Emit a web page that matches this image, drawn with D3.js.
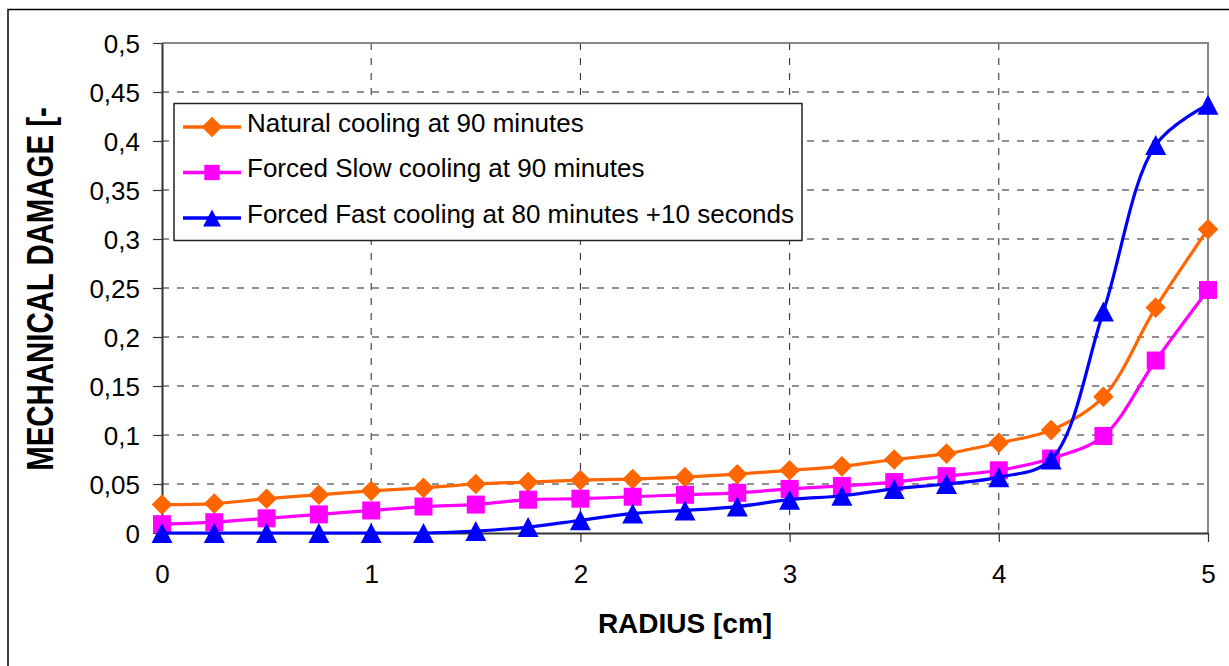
<!DOCTYPE html>
<html>
<head>
<meta charset="utf-8">
<script src="https://cdn.jsdelivr.net/npm/d3@7"></script>
<style>
  html, body { margin: 0; padding: 0; background: #fff; }
  svg { display: block; font-family: Arial, "Liberation Sans", sans-serif; }
</style>
</head>
<body>
<svg id="chart" width="1229" height="666"></svg>
<script>
// Radius positions (cm)
const radius = [0, 0.25, 0.5, 0.75, 1, 1.25, 1.5, 1.75, 2, 2.25, 2.5, 2.75, 3, 3.25, 3.5, 3.75, 4, 4.25, 4.5, 4.75, 5];

// Mechanical damage for each cooling scenario
const naturalCooling = [0.029, 0.030, 0.035, 0.039, 0.043, 0.046, 0.050, 0.052, 0.054, 0.055, 0.057, 0.060, 0.064, 0.068, 0.075, 0.081, 0.092, 0.105, 0.139, 0.230, 0.310];
const slowCooling    = [0.009, 0.011, 0.015, 0.019, 0.023, 0.027, 0.029, 0.034, 0.035, 0.037, 0.039, 0.041, 0.045, 0.048, 0.052, 0.058, 0.064, 0.076, 0.099, 0.176, 0.248];
const fastCooling    = [0, 0, 0, 0, 0, 0, 0.002, 0.006, 0.013, 0.020, 0.023, 0.027, 0.034, 0.038, 0.045, 0.050, 0.057, 0.075, 0.226, 0.396, 0.437];

const seriesNames = [
  "Natural cooling at 90 minutes",
  "Forced Slow cooling at 90 minutes",
  "Forced Fast cooling at 80 minutes +10 seconds"
];

// Axis ticks
const xTicks = [0, 1, 2, 3, 4, 5];
const yTicks = [0, 0.05, 0.1, 0.15, 0.2, 0.25, 0.3, 0.35, 0.4, 0.45, 0.5];

const xTitle = "RADIUS [cm]";
const yTitle = "MECHANICAL DAMAGE [-";

const series = [
  { name: seriesNames[0], values: naturalCooling, color: "#FF6600", marker: "diamond" },
  { name: seriesNames[1], values: slowCooling,    color: "#FF00FF", marker: "square" },
  { name: seriesNames[2], values: fastCooling,    color: "#0000FF", marker: "triangle" }
];

const svg = d3.select("#chart");
const plot = { left: 162, right: 1208, top: 43, bottom: 533 };

const x = d3.scaleLinear().domain([0, 5]).range([plot.left, plot.right]);
const y = d3.scaleLinear().domain([0, 0.5]).range([plot.bottom, plot.top]);

const locale = d3.formatLocale({ decimal: ",", thousands: ".", grouping: [3], currency: ["", ""] });
const fmt = locale.format("~g");

// Outer chart frame
svg.append("rect")
  .attr("x", 8).attr("y", 9.5)
  .attr("width", 1400).attr("height", 800)
  .attr("fill", "none").attr("stroke", "#000").attr("stroke-width", 1.5);

// Dashed gridlines
const grid = svg.append("g").attr("stroke", "#222").attr("stroke-width", 1).attr("stroke-dasharray", "7,8");
grid.selectAll("line.h").data(yTicks.filter(v => v > 0 && v < 0.5)).join("line")
  .attr("x1", plot.left).attr("x2", plot.right)
  .attr("y1", d => y(d)).attr("y2", d => y(d));
grid.selectAll("line.v").data(xTicks.filter(v => v > 0 && v < 5)).join("line")
  .attr("x1", d => x(d)).attr("x2", d => x(d))
  .attr("y1", plot.top).attr("y2", plot.bottom);

// Plot area top/right border
svg.append("path")
  .attr("d", `M${plot.left},${plot.top}H${plot.right}V${plot.bottom}`)
  .attr("fill", "none").attr("stroke", "#888").attr("stroke-width", 2);

// Axes
const yAxis = svg.append("g")
  .attr("transform", `translate(${plot.left},0)`)
  .call(d3.axisLeft(y).tickValues(yTicks).tickFormat(fmt).tickSize(9).tickSizeOuter(0).tickPadding(13));
const xAxis = svg.append("g")
  .attr("transform", `translate(0,${plot.bottom})`)
  .call(d3.axisBottom(x).tickValues(xTicks).tickFormat(fmt).tickSize(9).tickSizeOuter(0));

[yAxis, xAxis].forEach(a => {
  a.select(".domain").attr("stroke", "#333").attr("stroke-width", 2);
  a.selectAll(".tick line").attr("stroke", "#333").attr("stroke-width", 1.2);
  a.selectAll(".tick text")
    .attr("fill", "#000")
    .style("font-size", "26px")
    .style("font-family", "Arial, 'Liberation Sans', sans-serif");
});
yAxis.selectAll(".tick text").attr("dy", "0.36em");
xAxis.selectAll(".tick text").attr("y", 50).attr("dy", 0);

// Marker shapes
function markerPath(type, s) {
  if (type === "diamond") {
    const h = 10.3 * s;
    return `M0,${-h}L${h},0L0,${h}L${-h},0Z`;
  }
  if (type === "square") {
    const h = 9 * s;
    return `M${-h},${-h}H${h}V${h}H${-h}Z`;
  }
  const w = 10.5 * s, h = 10 * s;
  return `M0,${-h}L${w},${h}L${-w},${h}Z`;
}

const line = d3.line()
  .x((d, i) => x(radius[i]))
  .y(d => y(d))
  .curve(d3.curveCatmullRom.alpha(0.5));

const seriesG = svg.append("g");
series.forEach(s => {
  const g = seriesG.append("g");
  g.append("path")
    .attr("d", line(s.values))
    .attr("fill", "none")
    .attr("stroke", s.color)
    .attr("stroke-width", 3.2)
    .attr("stroke-linejoin", "round");
  g.selectAll("path.mk").data(s.values).join("path")
    .attr("class", "mk")
    .attr("transform", (d, i) => `translate(${x(radius[i])},${y(d)})`)
    .attr("d", markerPath(s.marker, 1))
    .attr("fill", s.color);
});

// Legend
const legend = svg.append("g");
legend.append("rect")
  .attr("x", 174).attr("y", 103.5)
  .attr("width", 628).attr("height", 137)
  .attr("fill", "#fff").attr("stroke", "#222").attr("stroke-width", 1.5);
series.forEach((s, i) => {
  const cy = 127 + i * 45.5;
  legend.append("line")
    .attr("x1", 183).attr("x2", 241)
    .attr("y1", cy).attr("y2", cy)
    .attr("stroke", s.color).attr("stroke-width", 3.3);
  legend.append("path")
    .attr("transform", `translate(212,${cy})`)
    .attr("d", markerPath(s.marker, s.marker === "diamond" ? 1 : 0.85))
    .attr("fill", s.color);
  legend.append("text")
    .attr("x", 247).attr("y", cy + 4.5)
    .style("font-size", "26px")
    .attr("fill", "#000")
    .text(s.name);
});

// Axis titles
svg.append("text")
  .attr("x", (plot.left + plot.right) / 2).attr("y", 632.5)
  .attr("text-anchor", "middle")
  .style("font-size", "28px").style("font-weight", "bold")
  .text(xTitle);

svg.append("text")
  .attr("transform", `translate(53,${(plot.top + plot.bottom) / 2 + 1}) scale(1.23,1) rotate(-90)`)
  .attr("text-anchor", "middle")
  .style("font-size", "29.4px").style("font-weight", "bold")
  .text(yTitle);
</script>
</body>
</html>
